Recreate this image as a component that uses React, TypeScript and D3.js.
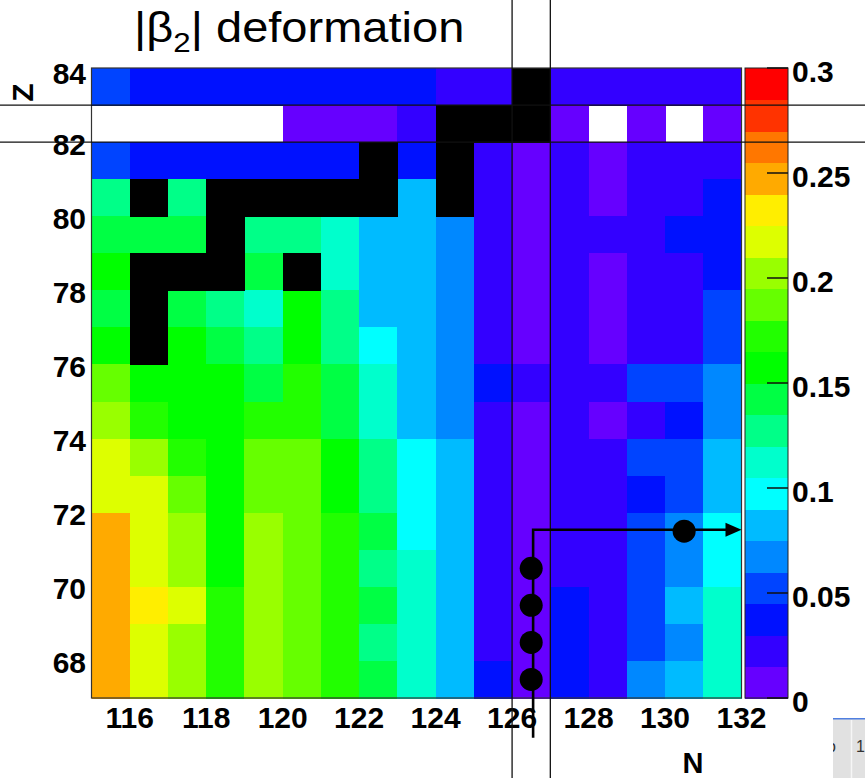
import React from 'react';
import * as d3 from 'd3';

// ---- data ----
const nCols: number[] = [115, 116, 117, 118, 119, 120, 121, 122, 123, 124, 125, 126, 127, 128, 129, 130, 131];
const zRows: number[] = [83, 82, 81, 80, 79, 78, 77, 76, 75, 74, 73, 72, 71, 70, 69, 68, 67];

// |beta2| per row (Z from 83 down to 67), per column N = 115..131; null = no value
const beta2: (number | null)[][] = [
  [0.052, 0.037, 0.037, 0.037, 0.037, 0.037, 0.037, 0.037, 0.037, 0.022, 0.022, null, 0.022, 0.022, 0.022, 0.022, 0.022],
  [null, null, null, null, null, 0.007, 0.007, 0.007, 0.022, null, null, null, 0.007, null, 0.007, null, 0.007],
  [0.052, 0.037, 0.037, 0.037, 0.037, 0.037, 0.037, null, 0.037, null, 0.022, 0.007, 0.022, 0.007, 0.022, 0.022, 0.022],
  [0.127, null, 0.127, null, null, null, null, null, 0.082, null, 0.022, 0.007, 0.022, 0.007, 0.022, 0.022, 0.037],
  [0.142, 0.142, 0.142, null, 0.127, 0.127, 0.112, 0.082, 0.082, 0.067, 0.022, 0.007, 0.022, 0.022, 0.022, 0.037, 0.037],
  [0.157, null, null, null, 0.142, null, 0.112, 0.082, 0.082, 0.067, 0.022, 0.007, 0.022, 0.007, 0.022, 0.022, 0.037],
  [0.142, null, 0.142, 0.127, 0.112, 0.157, 0.127, 0.082, 0.082, 0.067, 0.022, 0.007, 0.022, 0.007, 0.022, 0.022, 0.052],
  [0.157, null, 0.157, 0.142, 0.127, 0.157, 0.127, 0.097, 0.082, 0.067, 0.022, 0.007, 0.022, 0.007, 0.022, 0.022, 0.052],
  [0.187, 0.157, 0.157, 0.157, 0.142, 0.172, 0.142, 0.112, 0.082, 0.067, 0.037, 0.022, 0.022, 0.022, 0.052, 0.052, 0.067],
  [0.202, 0.172, 0.157, 0.157, 0.172, 0.172, 0.142, 0.112, 0.082, 0.067, 0.022, 0.007, 0.022, 0.007, 0.022, 0.037, 0.067],
  [0.217, 0.202, 0.172, 0.157, 0.187, 0.187, 0.157, 0.127, 0.097, 0.082, 0.022, 0.007, 0.022, 0.022, 0.052, 0.052, 0.082],
  [0.217, 0.217, 0.187, 0.157, 0.187, 0.187, 0.157, 0.127, 0.097, 0.082, 0.022, 0.007, 0.022, 0.022, 0.037, 0.052, 0.082],
  [0.247, 0.217, 0.202, 0.157, 0.202, 0.187, 0.172, 0.142, 0.097, 0.082, 0.022, 0.007, 0.022, 0.022, 0.052, 0.067, 0.097],
  [0.247, 0.217, 0.202, 0.157, 0.202, 0.187, 0.172, 0.127, 0.112, 0.082, 0.022, 0.007, 0.022, 0.022, 0.052, 0.067, 0.097],
  [0.247, 0.232, 0.217, 0.172, 0.202, 0.187, 0.172, 0.142, 0.112, 0.082, 0.022, 0.007, 0.037, 0.022, 0.052, 0.082, 0.112],
  [0.247, 0.217, 0.202, 0.172, 0.202, 0.187, 0.172, 0.127, 0.112, 0.082, 0.022, 0.007, 0.037, 0.022, 0.052, 0.067, 0.112],
  [0.247, 0.217, 0.202, 0.172, 0.202, 0.187, 0.172, 0.142, 0.112, 0.082, 0.037, 0.007, 0.037, 0.022, 0.067, 0.082, 0.112],
];

// black-marked nuclei [N, Z]
const blackCells: [number, number][] = [
  [126, 83],
  [124, 82], [125, 82], [126, 82],
  [122, 81], [124, 81],
  [116, 80], [118, 80], [119, 80], [120, 80], [121, 80], [122, 80], [124, 80],
  [118, 79],
  [116, 78], [117, 78], [118, 78], [120, 78],
  [116, 77],
  [116, 76],
];

// magic-number guide lines
const magicN: number[] = [126, 127];
const magicZ: number[] = [82, 83];

// dots and arrow path (N, Z)
const dotN: number[] = [126.5, 126.5, 126.5, 126.5, 130.5];
const dotZ: number[] = [70.5, 69.5, 68.5, 67.5, 71.5];
const arrowPts: [number, number][] = [[126.55, 65.93], [126.55, 71.54], [131.6, 71.54]];
const arrowTip: [number, number] = [132, 71.54];

const xTicks: number[] = [116, 118, 120, 122, 124, 126, 128, 130, 132];
const yTicks: number[] = [68, 70, 72, 74, 76, 78, 80, 82, 84];
const cTicks: number[] = [0, 0.05, 0.1, 0.15, 0.2, 0.25, 0.3];
const cTickLabels: string[] = ['0', '0.05', '0.1', '0.15', '0.2', '0.25', '0.3'];

const palette: string[] = [
  '#6600ff', '#3300ff', '#0011ff', '#0044ff', '#0088ff', '#00bbff', '#00ffff', '#00ffcc', '#00ff88', '#00ff44',
  '#00ff00', '#22ff00', '#66ff00', '#99ff00', '#ddff00', '#ffee00', '#ffaa00', '#ff7700', '#ff3300', '#ff0000',
];

const FONT = '"Liberation Sans", Arial, Helvetica, sans-serif';

export default function App() {
  const W = 865, H = 778;
  const x = d3.scaleLinear().domain([115, 132]).range([91.5, 741.5]);
  const y = d3.scaleLinear().domain([67, 84]).range([698, 68]);
  const color = d3.scaleQuantize<string>().domain([0, 0.3]).range(palette);
  const cb = d3.scaleLinear().domain([0, 0.3]).range([698, 68]);
  const cbX0 = 745, cbX1 = 788;
  const levels = d3.range(palette.length);
  const step = 0.3 / palette.length;
  const cw = x(116) - x(115);
  const ch = y(67) - y(68);
  const line = d3.line<[number, number]>().x(d => x(d[0])).y(d => y(d[1]));

  return (
    <svg width={W} height={H} style={{ position: 'absolute', left: 0, top: 0, background: '#fff' }} fontFamily={FONT}>
      <rect x={0} y={0} width={W} height={H} fill="#fff" />
      {/* cells */}
      <g shapeRendering="crispEdges">
        {zRows.map((z, ri) =>
          nCols.map((n, ci) => {
            const v = beta2[ri][ci];
            if (v === null) return null;
            return <rect key={`${n}-${z}`} x={x(n)} y={y(z + 1)} width={cw + 0.5} height={ch + 0.5} fill={color(v)} />;
          })
        )}
        {blackCells.map(([n, z]) => (
          <rect key={`b${n}-${z}`} x={x(n)} y={y(z + 1)} width={cw + 0.5} height={ch + 0.5} fill="#000" />
        ))}
      </g>
      {/* frame */}
      <rect x={x(115)} y={y(84)} width={x(132) - x(115)} height={y(67) - y(84)} fill="none" stroke="#333" strokeWidth={1.2} />
      {/* axis labels */}
      {xTicks.map(t => (
        <text key={`xt${t}`} x={x(t)} y={717} textAnchor="middle" dominantBaseline="central" fontSize={30} fontWeight="bold">{t}</text>
      ))}
      {yTicks.map(t => (
        <text key={`yt${t}`} x={86} y={y(t) + (t === 84 ? 5 : 2)} textAnchor="end" dominantBaseline="central" fontSize={30} fontWeight="bold">{t}</text>
      ))}
      <text x={693} y={763} textAnchor="middle" dominantBaseline="central" fontSize={29} fontWeight="bold">N</text>
      <text transform="translate(22.5,92.5) rotate(-90)" textAnchor="middle" dominantBaseline="central" fontSize={30} fontWeight="bold">Z</text>
      {/* title */}
      <g transform="translate(134,42) scale(1.12,1)">
        <text x={0} y={0} fontSize={42}>
          |β<tspan fontSize={28} dy={10}>2</tspan><tspan dy={-10}>| deformation</tspan>
        </text>
      </g>
      {/* colour bar */}
      <g shapeRendering="crispEdges">
        {levels.map(i => (
          <rect key={`cb${i}`} x={cbX0} y={cb((i + 1) * step)} width={cbX1 - cbX0} height={cb(i * step) - cb((i + 1) * step) + 0.5} fill={palette[i]} />
        ))}
      </g>
      <rect x={cbX0} y={cb(0.3)} width={cbX1 - cbX0} height={cb(0) - cb(0.3)} fill="none" stroke="#222" strokeWidth={1} />
      {cTicks.map((t, i) => (
        <g key={`ct${i}`}>
          <line x1={767} x2={cbX1} y1={cb(t)} y2={cb(t)} stroke="#111" strokeWidth={1.5} />
          <text x={792} y={cb(t) + 3} dominantBaseline="central" fontSize={30} fontWeight="bold">{cTickLabels[i]}</text>
        </g>
      ))}
      {/* guide lines */}
      {magicN.map(n => (
        <line key={`mn${n}`} x1={x(n)} x2={x(n)} y1={0} y2={H} stroke="#111" strokeWidth={1.3} />
      ))}
      {magicZ.map(z => (
        <line key={`mz${z}`} x1={0} x2={W} y1={y(z)} y2={y(z)} stroke="#111" strokeWidth={1.3} />
      ))}
      {/* arrow and dots */}
      <path d={line(arrowPts) || ''} fill="none" stroke="#000" strokeWidth={2.6} />
      <path
        d={`M${x(arrowTip[0])},${y(arrowTip[1])} L${x(arrowTip[0]) - 16},${y(arrowTip[1]) - 7} L${x(arrowTip[0]) - 16},${y(arrowTip[1]) + 7} Z`}
        fill="#000"
      />
      {dotN.map((n, i) => (
        <circle key={`d${i}`} cx={x(n)} cy={y(dotZ[i])} r={11.5} fill="#000" />
      ))}
      {/* clipped fragment bottom right */}
      <defs>
        <clipPath id="frag">
          <rect x={833} y={718} width={32} height={60} />
        </clipPath>
      </defs>
      <g clipPath="url(#frag)">
        <rect x={833} y={718} width={32} height={60} fill="#e1e1e1" />
        <rect x={833} y={717} width={32} height={2.5} fill="#4f7fe0" />
        <line x1={851.5} x2={851.5} y1={720} y2={778} stroke="#f6f6f6" strokeWidth={1.5} />
        <text x={827} y={752} fontSize={16} fill="#333">o</text>
        <text x={856} y={752} fontSize={16} fill="#333">1</text>
      </g>
    </svg>
  );
}
